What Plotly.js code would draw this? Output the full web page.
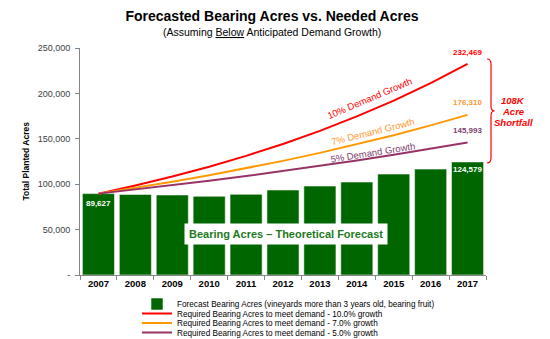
<!DOCTYPE html>
<html>
<head>
<meta charset="utf-8">
<script src="https://cdn.plot.ly/plotly-3.0.1.min.js"></script>
<style>html,body{margin:0;padding:0;background:#fff;}#chart{width:550px;height:339px;}</style>
</head>
<body>
<div id="chart"></div>
<script>
// ---- Data ----
var years = ["2007","2008","2009","2010","2011","2012","2013","2014","2015","2016","2017"];
var bearingAcres = [89627, 88700, 88100, 86700, 88900, 93600, 98000, 102400, 111200, 116700, 124579];
var need10 = [89627, 98590, 108449, 119294, 131223, 144345, 158780, 174658, 192123, 211336, 232469];
var need7  = [89627, 95901, 102614, 109797, 117483, 125707, 134506, 143921, 153996, 164776, 176310];
var need5  = [89627, 94108, 98814, 103755, 108942, 114389, 120109, 126114, 132420, 139041, 145993];
var yTickVals = [0, 50000, 100000, 150000, 200000, 250000];
var yTickText = ["-", "50,000", "100,000", "150,000", "200,000", "250,000"];
var seriesNames = [
  "Forecast Bearing Acres (vineyards more than 3 years old, bearing fruit)",
  "Required Bearing Acres to meet demand - 10.0% growth",
  "Required Bearing Acres to meet demand - 7.0% growth",
  "Required Bearing Acres to meet demand - 5.0% growth"
];
var lineLabels = ["10% Demand Growth", "7% Demand Growth", "5% Demand Growth"];

var FONT = "Arial, 'Liberation Sans', sans-serif";
var GREEN = "#006600", RED = "#FF0000", ORANGE = "#FF9900", PURPLE = "#993366";

function fmt(v){ return v.toLocaleString("en-US"); }
var last = years.length - 1;

var traces = [
  {type:"bar", x:years, y:bearingAcres, name:seriesNames[0], legend:"legend",
   marker:{color:GREEN, line:{color:"rgba(255,255,255,0.55)", width:1}}},
  {type:"scatter", mode:"lines", x:years, y:need10, name:seriesNames[1], legend:"legend2",
   line:{color:RED, width:2}},
  {type:"scatter", mode:"lines", x:years, y:need7, name:seriesNames[2], legend:"legend3",
   line:{color:ORANGE, width:2}},
  {type:"scatter", mode:"lines", x:years, y:need5, name:seriesNames[3], legend:"legend4",
   line:{color:PURPLE, width:2}}
];

function legendAt(y){
  return {x:(137-80)/406, xanchor:"left", y:y, yanchor:"middle", orientation:"v",
    bgcolor:"rgba(0,0,0,0)", font:{family:FONT, size:8.2, color:"#000"},
    itemwidth:30, tracegroupgap:0};
}

function ann(o){ o.showarrow=false; if(!o.xanchor) o.xanchor="center"; if(!o.yanchor) o.yanchor="middle"; return o; }

var annotations = [
  ann({text:"(Assuming <u>Below</u> Anticipated Demand Growth)", xref:"paper", yref:"paper",
   x:(272-80)/406, y:(275-32)/227, font:{family:FONT, size:10.5, color:"#000"}}),
  ann({text:"<b>Total Planted Acres</b>", xref:"paper", yref:"paper", x:(25-80)/406, y:0.5,
   textangle:-90, font:{family:FONT, size:8.5, color:"#000"}}),
  // bar value labels
  ann({text:"<b>"+fmt(bearingAcres[0])+"</b>", x:0, y:bearingAcres[0], xref:"x", yref:"y",
   yshift:-10, font:{family:FONT, size:8, color:"#fff"}}),
  ann({text:"<b>"+fmt(bearingAcres[last])+"</b>", x:last, y:bearingAcres[last], xref:"x", yref:"y",
   yshift:-8, font:{family:FONT, size:8, color:"#fff"}}),
  // end value labels
  ann({text:"<b>"+fmt(need10[last])+"</b>", x:last, y:need10[last], xref:"x", yref:"y",
   yshift:11, font:{family:FONT, size:8, color:RED}}),
  ann({text:"<b>"+fmt(need7[last])+"</b>", x:last, y:need7[last], xref:"x", yref:"y",
   yshift:12, font:{family:FONT, size:8, color:"#FF9933"}}),
  ann({text:"<b>"+fmt(need5[last])+"</b>", x:last, y:need5[last], xref:"x", yref:"y",
   yshift:12, font:{family:FONT, size:8, color:"#7F3F6F"}}),
  // line labels
  ann({text:lineLabels[0], xref:"paper", yref:"paper", x:(369-80)/406, y:(275-98)/227, textangle:-23,
   font:{family:FONT, size:9.5, color:RED}}),
  ann({text:lineLabels[1], xref:"paper", yref:"paper", x:(373-80)/406, y:(275-131)/227, textangle:-14,
   font:{family:FONT, size:9.5, color:"#FF9933"}}),
  ann({text:lineLabels[2], xref:"paper", yref:"paper", x:(373-80)/406, y:(275-152)/227, textangle:-9,
   font:{family:FONT, size:9.5, color:"#7F3F6F"}}),
  // shortfall
  ann({text:"<b><i>108K</i></b>", xref:"paper", yref:"paper", x:(513-80)/406, y:(275-100)/227,
   font:{family:FONT, size:9.5, color:RED}}),
  ann({text:"<b><i>Acre</i></b>", xref:"paper", yref:"paper", x:(513-80)/406, y:(275-111)/227,
   font:{family:FONT, size:9.5, color:RED}}),
  ann({text:"<b><i>Shortfall</i></b>", xref:"paper", yref:"paper", x:(513-80)/406, y:(275-122)/227,
   font:{family:FONT, size:9.5, color:RED}}),
  // theoretical forecast box
  ann({text:"<b>Bearing Acres \u2013 Theoretical Forecast</b>", xref:"paper", yref:"paper",
   x:(286-80)/406, y:(275-234)/227, bgcolor:"#fff", borderpad:4,
   font:{family:FONT, size:11, color:"#1E7A1E"}})
];

function px(x){ return ((x-80)/406).toFixed(4); }
function py(y){ return ((275-y)/227).toFixed(4); }
var brace = "M"+px(487)+","+py(59)+" Q"+px(491)+","+py(59)+" "+px(491)+","+py(64)+
  " L"+px(491)+","+py(106)+" Q"+px(491)+","+py(111)+" "+px(494.5)+","+py(111)+
  " Q"+px(491)+","+py(111)+" "+px(491)+","+py(116)+
  " L"+px(491)+","+py(158)+" Q"+px(491)+","+py(163)+" "+px(487)+","+py(163);

var layout = {
  width:550, height:339,
  margin:{l:80, r:64, t:48, b:64, autoexpand:false},
  paper_bgcolor:"#fff", plot_bgcolor:"#fff",
  font:{family:FONT, color:"#000"},
  title:{text:"<b>Forecasted Bearing Acres vs. Needed Acres</b>", xref:"container", yref:"container",
    x:272/550, y:1-16/339, xanchor:"center", yanchor:"middle", font:{family:FONT, size:14, color:"#000"}},
  bargap:0.13,
  showlegend:true,
  legend:legendAt((275-304)/227),
  legend2:legendAt((275-313.5)/227),
  legend3:legendAt((275-323)/227),
  legend4:legendAt((275-332.5)/227),
  xaxis:{type:"category", range:[-0.5, years.length-0.5], autorange:false, fixedrange:true,
    showline:true, linecolor:"#868686", linewidth:1, automargin:false,
    ticks:"outside", tickson:"boundaries", ticklen:4, tickcolor:"#868686", tickangle:0,
    tickfont:{family:FONT, size:9.5, color:"#000", weight:"bold"}, showgrid:false, zeroline:false},
  yaxis:{range:[0,250000], autorange:false, showline:true, linecolor:"#868686", linewidth:1,
    ticks:"outside", ticklen:4, tickcolor:"#868686", tickvals:yTickVals, ticktext:yTickText,
    automargin:false, ticklabelstandoff:3,
    tickfont:{family:FONT, size:9, color:"#404040"}, showgrid:false, zeroline:false},
  annotations:annotations,
  shapes:[{type:"path", xref:"paper", yref:"paper", path:brace, line:{color:RED, width:1.2}}]
};

Plotly.newPlot("chart", traces, layout, {staticPlot:true, displayModeBar:false});
</script>
</body>
</html>
